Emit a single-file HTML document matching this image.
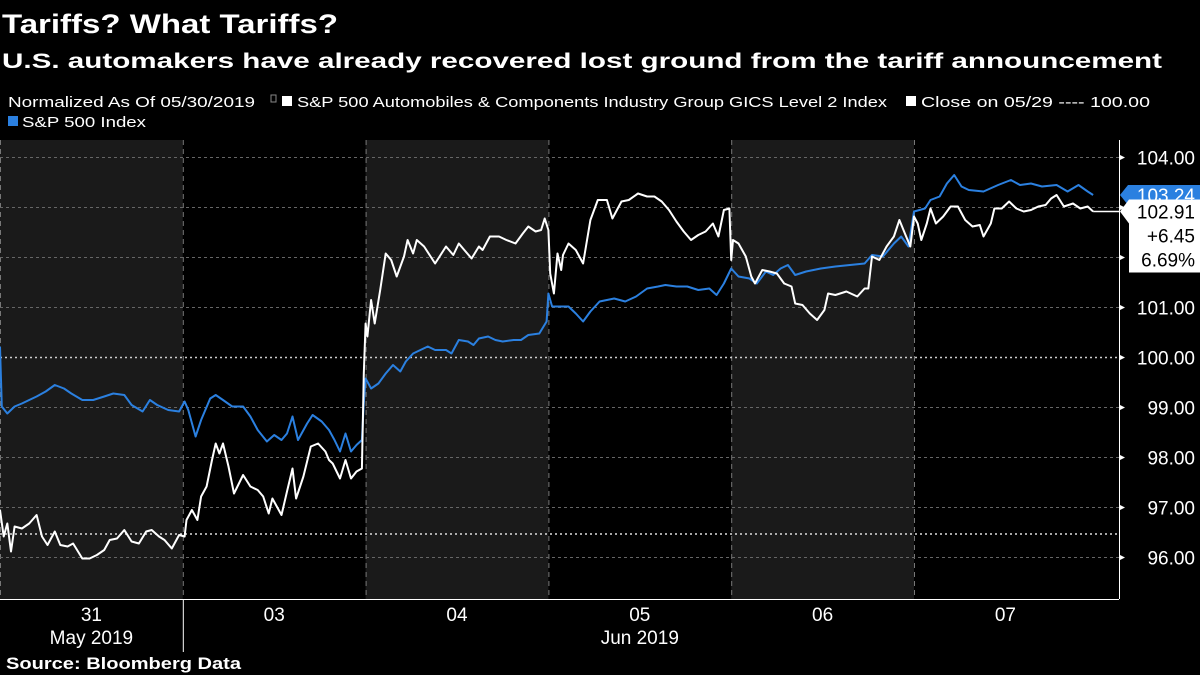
<!DOCTYPE html>
<html><head><meta charset="utf-8"><style>
html,body{margin:0;padding:0;background:#000;}
svg{display:block;}
text{font-family:"Liberation Sans","DejaVu Sans",sans-serif;}
</style></head><body>
<svg id="chart" width="1200" height="675" viewBox="0 0 1200 675" xmlns="http://www.w3.org/2000/svg">
<rect width="1200" height="675" fill="#000"/>
<text x="2" y="33" fill="#fff" font-size="27" font-weight="bold" font-family="DejaVu Sans, sans-serif" textLength="336" lengthAdjust="spacingAndGlyphs">Tariffs? What Tariffs?</text>
<text x="2" y="68" fill="#fff" font-size="21" font-weight="bold" font-family="DejaVu Sans, sans-serif" textLength="1160" lengthAdjust="spacingAndGlyphs">U.S. automakers have already recovered lost ground from the tariff announcement</text>
<g font-size="15" fill="#fff">
<text x="8" y="107" textLength="247" lengthAdjust="spacingAndGlyphs">Normalized As Of 05/30/2019</text>
<rect x="271" y="95" width="5" height="7" fill="none" stroke="#888" stroke-width="1"/>
<rect x="282" y="96" width="10" height="10" fill="#fff"/>
<text x="297" y="107" textLength="590" lengthAdjust="spacingAndGlyphs">S&amp;P 500 Automobiles &amp; Components Industry Group GICS Level 2 Index</text>
<rect x="906" y="96" width="10" height="10" fill="#fff"/>
<text x="921" y="107" textLength="229" lengthAdjust="spacingAndGlyphs">Close on 05/29 ---- 100.00</text>
<rect x="8" y="116" width="10" height="10" fill="#2b80e0"/>
<text x="22" y="127" textLength="124" lengthAdjust="spacingAndGlyphs">S&amp;P 500 Index</text>
</g>
<g id="plot"></g>
<text x="6" y="669" fill="#fff" font-size="17" font-weight="bold" font-family="DejaVu Sans, sans-serif" textLength="235" lengthAdjust="spacingAndGlyphs">Source: Bloomberg Data</text>
</svg>
<script>
const yTicks=[96,97,98,99,100,101,102,103,104];
const yTickLabels=["96.00","97.00","98.00","99.00","100.00","101.00","102.00","103.00","104.00"];
const dayLabels=["31","03","04","05","06","07"];
const monthLabels=[["May 2019",0],["Jun 2019",3]];
const closeRef=96.46;
const autoT=[0,.02,.04,.06,.08,.12,.16,.20,.23,.26,.30,.33,.37,.40,.45,.49,.53,.57,.60,.64,.68,.72,.76,.80,.83,.87,.90,.94,.98,1.01,1.02,1.05,1.08,1.10,1.13,1.16,1.18,1.20,1.22,1.25,1.28,1.33,1.37,1.41,1.44,1.47,1.49,1.54,1.57,1.60,1.62,1.66,1.70,1.74,1.78,1.80,1.82,1.86,1.89,1.92,1.95,1.98,1.99,2.00,2.01,2.03,2.05,2.08,2.11,2.14,2.17,2.21,2.23,2.26,2.28,2.32,2.38,2.44,2.48,2.51,2.54,2.58,2.62,2.64,2.68,2.73,2.77,2.82,2.86,2.89,2.93,2.96,2.98,3.00,3.01,3.03,3.05,3.07,3.08,3.11,3.15,3.19,3.23,3.27,3.32,3.35,3.40,3.44,3.49,3.54,3.58,3.62,3.66,3.70,3.74,3.78,3.82,3.86,3.90,3.93,3.96,3.99,4.00,4.01,4.04,4.08,4.11,4.13,4.17,4.21,4.25,4.29,4.33,4.35,4.39,4.43,4.47,4.51,4.53,4.57,4.63,4.69,4.73,4.75,4.77,4.81,4.85,4.89,4.92,4.95,4.98,5.00,5.02,5.04,5.07,5.09,5.12,5.16,5.20,5.24,5.28,5.32,5.36,5.38,5.42,5.44,5.48,5.52,5.56,5.60,5.64,5.68,5.72,5.75,5.78,5.82,5.87,5.91,5.95,5.98];
const autoV=[96.94,96.41,96.67,96.11,96.61,96.57,96.67,96.84,96.41,96.24,96.51,96.24,96.21,96.27,95.97,95.97,96.04,96.14,96.34,96.37,96.54,96.31,96.27,96.51,96.54,96.41,96.34,96.17,96.44,96.41,96.74,96.94,96.74,97.21,97.41,97.94,98.27,98.07,98.27,97.81,97.27,97.64,97.41,97.34,97.21,96.87,97.17,96.84,97.31,97.77,97.17,97.61,98.21,98.27,98.11,97.94,97.87,97.57,97.94,97.57,97.71,97.77,99.67,100.67,100.41,101.14,100.67,101.34,102.07,101.94,101.61,102.01,102.34,102.07,102.34,102.21,101.87,102.21,102.04,102.27,102.14,101.97,102.21,102.14,102.41,102.41,102.34,102.27,102.47,102.61,102.51,102.54,102.77,102.54,101.67,101.27,102.07,101.74,102.04,102.27,102.14,101.87,102.74,103.14,103.14,102.77,103.11,103.14,103.27,103.21,103.21,103.11,102.94,102.71,102.51,102.34,102.44,102.51,102.67,102.41,102.94,102.97,101.94,102.34,102.27,102.01,101.61,101.47,101.74,101.71,101.67,101.47,101.41,101.07,101.04,100.87,100.74,100.94,101.27,101.24,101.31,101.21,101.37,101.37,102.01,101.94,102.21,102.41,102.74,102.47,102.21,102.81,102.67,102.34,102.67,102.97,102.67,102.81,103.01,103.01,102.74,102.61,102.64,102.41,102.67,102.97,102.97,103.11,102.97,102.91,102.94,103.01,103.04,103.17,103.24,103.01,103.07,102.97,103.01,102.91];
const spxT=[0,.01,.04,.08,.12,.16,.20,.25,.30,.35,.39,.45,.51,.57,.62,.68,.72,.78,.82,.86,.92,.98,1.01,1.03,1.07,1.10,1.15,1.18,1.22,1.27,1.33,1.37,1.41,1.46,1.50,1.54,1.57,1.60,1.63,1.68,1.71,1.76,1.80,1.83,1.86,1.89,1.92,1.95,1.98,1.99,2.00,2.03,2.07,2.11,2.15,2.19,2.22,2.26,2.30,2.34,2.38,2.44,2.47,2.51,2.56,2.59,2.62,2.67,2.71,2.75,2.81,2.85,2.89,2.95,2.99,3.00,3.02,3.07,3.11,3.15,3.19,3.23,3.28,3.36,3.42,3.48,3.54,3.60,3.64,3.70,3.76,3.82,3.88,3.92,3.96,4.00,4.04,4.10,4.14,4.19,4.23,4.27,4.31,4.35,4.41,4.49,4.57,4.65,4.73,4.77,4.83,4.89,4.93,4.97,5.00,5.06,5.09,5.14,5.18,5.22,5.26,5.30,5.38,5.46,5.53,5.58,5.64,5.70,5.78,5.84,5.90,5.95,5.98];
const spxV=[100.21,99.01,98.87,99.01,99.07,99.14,99.21,99.31,99.44,99.37,99.27,99.14,99.14,99.21,99.27,99.24,99.04,98.91,99.14,99.04,98.94,98.91,99.11,98.94,98.41,98.74,99.17,99.24,99.14,99.01,99.01,98.81,98.54,98.31,98.44,98.34,98.47,98.81,98.34,98.67,98.84,98.71,98.54,98.34,98.11,98.47,98.11,98.24,98.34,99.07,99.57,99.37,99.47,99.67,99.84,99.71,99.91,100.07,100.14,100.21,100.14,100.14,100.07,100.34,100.31,100.24,100.37,100.41,100.34,100.31,100.34,100.34,100.44,100.47,100.71,101.27,101.01,101.01,101.01,100.87,100.71,100.91,101.11,101.17,101.11,101.21,101.37,101.41,101.44,101.41,101.41,101.34,101.37,101.24,101.47,101.77,101.61,101.57,101.47,101.71,101.64,101.77,101.84,101.64,101.71,101.77,101.81,101.84,101.87,102.04,102.01,102.27,102.41,102.21,102.91,102.97,103.14,103.21,103.47,103.64,103.41,103.34,103.31,103.44,103.54,103.44,103.47,103.41,103.44,103.31,103.44,103.31,103.24];
const lastAuto=102.91, lastSpx=103.24, chg="+6.45", chgPct="6.69%";

const NS="http://www.w3.org/2000/svg";
const plot=document.getElementById('plot');
const X0=0, DAYW=182.8, AXX=1119, TOP=140, BOT=599;
const xs=t=>X0+t*DAYW;
const ys=v=>357-(v-100)*50;
function mk(tag,attrs,parent){const e=document.createElementNS(NS,tag);for(const k in attrs)e.setAttribute(k,attrs[k]);(parent||plot).appendChild(e);return e;}

// bands
for(let d=0;d<6;d+=2){
  const b=mk('rect',{x:xs(d),y:TOP,width:DAYW,height:BOT-TOP,fill:'#1a1a1a'});
  
  
}
// vertical dashed separators
for(let d=0;d<6;d++){
  const l=mk('line',{x1:xs(d)+0.5,x2:xs(d)+0.5,y1:TOP,y2:BOT,stroke:'#777','stroke-width':1,'stroke-dasharray':'5,4'});
  
  
}
// gridlines + tick labels
yTicks.forEach((v,i)=>{
  const y=Math.round(ys(v))+0.5;
  const g=mk('line',{x1:0,x2:AXX,y1:y,y2:y,stroke:v===100?'#ccc':'#666','stroke-width':v===100?1.5:1,'stroke-dasharray':v===100?'2,3':'3,3'});
  
  
  mk('path',{d:`M${AXX} ${y-3} L${AXX+6} ${y} L${AXX} ${y+3}Z`,fill:'#fff'});
  const t=mk('text',{x:1195,y:y+7,'text-anchor':'end',fill:'#fff','font-size':19});
  t.textContent=yTickLabels[i];
  
  
});
// close reference
const cr=mk('line',{x1:0,x2:AXX,y1:ys(closeRef),y2:ys(closeRef),stroke:'#ddd','stroke-width':1.5,'stroke-dasharray':'2,3'});


// axes
const ax=mk('line',{x1:AXX+0.5,x2:AXX+0.5,y1:TOP,y2:BOT,stroke:'#fff','stroke-width':1});


const bx=mk('line',{x1:0,x2:AXX,y1:BOT+0.5,y2:BOT+0.5,stroke:'#fff','stroke-width':1});


const sep=mk('line',{x1:xs(1)+0.5,x2:xs(1)+0.5,y1:BOT,y2:652,stroke:'#fff','stroke-width':1});


dayLabels.forEach((s,i)=>{
  const t=mk('text',{x:xs(i+0.5),y:621,'text-anchor':'middle',fill:'#fff','font-size':19});
  t.textContent=s;
  
  
});
monthLabels.forEach(([s,d])=>{
  const t=mk('text',{x:xs(d+0.5),y:644,'text-anchor':'middle',fill:'#fff','font-size':19});
  t.textContent=s;
  
  
});
// series
function line(T,V,color,name){
  const d=T.map((t,i)=>(i?'L':'M')+xs(t).toFixed(1)+' '+ys(V[i]).toFixed(1)).join(' ');
  const p=mk('path',{d,fill:'none',stroke:color,'stroke-width':2,'stroke-linejoin':'round'});
  
  
}
line(spxT,spxV,'#2b80e0','spx-line');
line(autoT,autoV,'#fff','auto-index-line');
// last-value connector
const lastX=xs(autoT[autoT.length-1]);
mk('line',{x1:lastX,x2:AXX,y1:ys(lastAuto),y2:ys(lastAuto),stroke:'#fff','stroke-width':1.5});
// spx tag
const sy=ys(lastSpx);
const st=mk('path',{d:`M${AXX+1} ${sy} L${AXX+9} ${sy-10} L1200 ${sy-10} L1200 ${sy+10} L${AXX+9} ${sy+10}Z`,fill:'#2b80e0'});


const stt=mk('text',{x:1195,y:sy+7,'text-anchor':'end',fill:'#fff','font-size':19});
stt.textContent=lastSpx.toFixed(2);
// auto tag
const ay=ys(lastAuto);
const at=mk('path',{d:`M${AXX+1} ${ay} L${AXX+10} ${ay-12} L1200 ${ay-12} L1200 ${ay+61} L${AXX+10} ${ay+61} L${AXX+10} ${ay+12}Z`,fill:'#fff'});


[lastAuto.toFixed(2),chg,chgPct].forEach((s,i)=>{
  const t=mk('text',{x:1195,y:ay+7+i*24,'text-anchor':'end',fill:'#000','font-size':19});
  t.textContent=s;
  
  
});
</script>
</body></html>
